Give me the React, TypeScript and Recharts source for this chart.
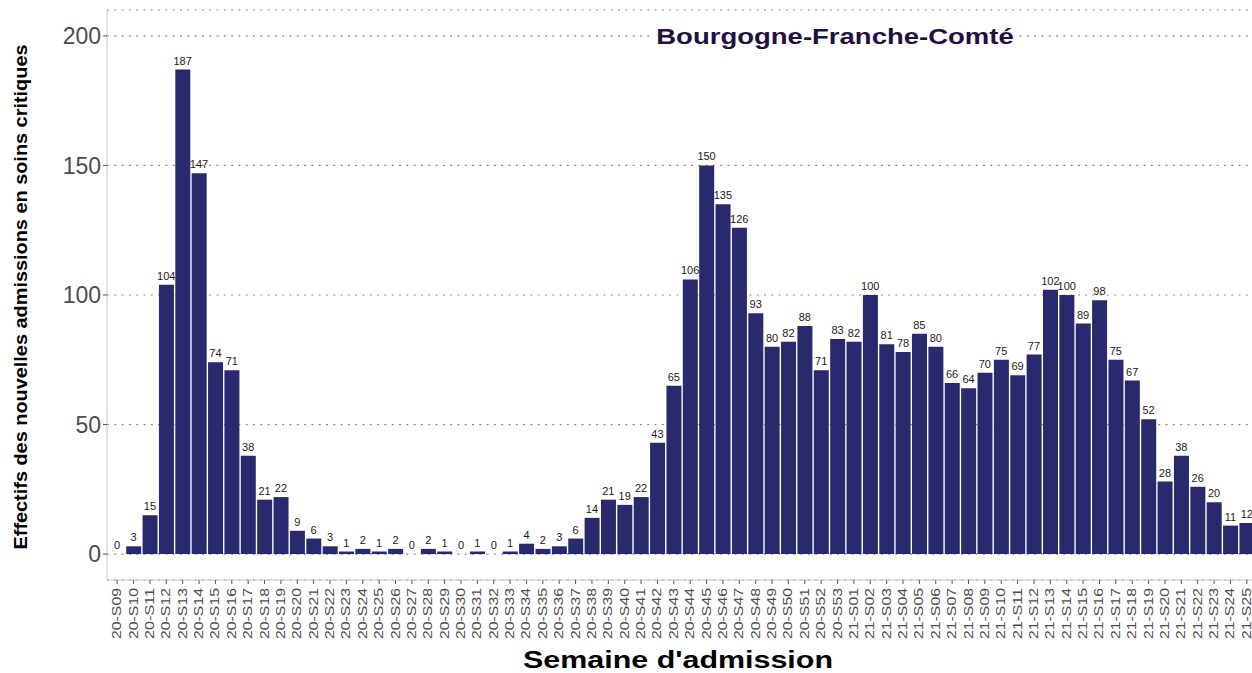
import React from "react";
import { ComposedChart, Bar, Line, XAxis, YAxis, CartesianGrid } from "recharts";

const weeks2020: string[] = [
  "20-S09","20-S10","20-S11","20-S12","20-S13","20-S14","20-S15","20-S16","20-S17","20-S18",
  "20-S19","20-S20","20-S21","20-S22","20-S23","20-S24","20-S25","20-S26","20-S27","20-S28",
  "20-S29","20-S30","20-S31","20-S32","20-S33","20-S34","20-S35","20-S36","20-S37","20-S38",
  "20-S39","20-S40","20-S41","20-S42","20-S43","20-S44","20-S45","20-S46","20-S47","20-S48",
  "20-S49","20-S50","20-S51","20-S52","20-S53",
];
const weeks2021: string[] = [
  "21-S01","21-S02","21-S03","21-S04","21-S05","21-S06","21-S07","21-S08","21-S09","21-S10",
  "21-S11","21-S12","21-S13","21-S14","21-S15","21-S16","21-S17","21-S18","21-S19","21-S20",
  "21-S21","21-S22","21-S23","21-S24","21-S25",
];
const values2020: number[] = [
  0, 3, 15, 104, 187, 147, 74, 71, 38, 21,
  22, 9, 6, 3, 1, 2, 1, 2, 0, 2,
  1, 0, 1, 0, 1, 4, 2, 3, 6, 14,
  21, 19, 22, 43, 65, 106, 150, 135, 126, 93,
  80, 82, 88, 71, 83,
];
const values2021: number[] = [
  82, 100, 81, 78, 85, 80, 66, 64, 70, 75,
  69, 77, 102, 100, 89, 98, 75, 67, 52, 28,
  38, 26, 20, 11, 12,
];
const yTicks: number[] = [0, 50, 100, 150, 200];

const title = "Bourgogne-Franche-Comté";
const xTitle = "Semaine d'admission";
const yTitle = "Effectifs des nouvelles admissions en soins critiques";

const categories = [...weeks2020, ...weeks2021];
const allValues = [...values2020, ...values2021];
const data = categories.map((week, i) => ({ week, v: allValues[i] }));

const FONT = "'Liberation Sans', Arial, Helvetica, sans-serif";

const XTick = (props: any) => {
  const { x, y, payload } = props;
  return (
    <text
      transform={`translate(${x},${y + 2}) rotate(-90)`}
      textAnchor="end"
      dominantBaseline="central"
      fontSize={12}
      fill="#4d4d4d"
      fontFamily={FONT}
      textLength={51}
      lengthAdjust="spacingAndGlyphs"
    >
      {payload.value}
    </text>
  );
};

const YTitle = () => (
  <text
    x={20}
    y={297}
    transform="rotate(-90 20 297)"
    textAnchor="middle"
    dominantBaseline="central"
    fontSize={19}
    fontWeight="bold"
    fill="#000"
    fontFamily={FONT}
    textLength={505}
    lengthAdjust="spacingAndGlyphs"
  >
    {yTitle}
  </text>
);

const XTitle = () => (
  <text
    x={678}
    y={660}
    textAnchor="middle"
    dominantBaseline="central"
    fontSize={23.5}
    fontWeight="bold"
    fill="#000"
    fontFamily={FONT}
    textLength={310}
    lengthAdjust="spacingAndGlyphs"
  >
    {xTitle}
  </text>
);

const ValueLabel = (props: any) => {
  const { x, y, value } = props;
  if (x == null || y == null) return null;
  return (
    <text
      x={x}
      y={y - 5}
      textAnchor="middle"
      fontSize={11}
      fill="#1a1a1a"
      fontFamily={FONT}
    >
      {value}
    </text>
  );
};

export default function App() {
  return (
    <div
      style={{
        position: "fixed",
        left: 0,
        top: 0,
        width: 1252,
        height: 673,
        overflow: "hidden",
        background: "#fff",
        fontFamily: FONT,
      }}
    >
      <ComposedChart
        width={1270}
        height={673}
        data={data}
        margin={{ top: 10, right: 13, left: 0, bottom: 0 }}
        barCategoryGap="5%"
      >
        <CartesianGrid
          vertical={false}
          stroke="#8a8a8a"
          strokeDasharray="2 5.3"
          strokeWidth={1.2}
        />
        <XAxis
          dataKey="week"
          interval={0}
          height={93}
          padding={{ left: 2, right: 2 }}
          tick={<XTick />}
          tickSize={4}
          tickLine={{ stroke: "#555" }}
          axisLine={{ stroke: "#c8c8c8" }}
          label={<XTitle />}
        />
        <YAxis
          width={107}
          domain={[-10, 210]}
          ticks={yTicks}
          allowDataOverflow
          tickSize={4}
          tickLine={{ stroke: "#555" }}
          axisLine={{ stroke: "#c8c8c8" }}
          tick={{ fontSize: 23, fill: "#4d4d4d", fontFamily: FONT }}
          label={<YTitle />}
        />
        <Bar dataKey="v" fill="#29296e" isAnimationActive={false} />
        <Line
          dataKey="v"
          stroke="none"
          dot={false}
          activeDot={false}
          isAnimationActive={false}
          label={<ValueLabel />}
        />
      </ComposedChart>
      <div
        style={{
          position: "absolute",
          left: 835,
          top: 37,
          transform: "translate(-50%, -50%) scaleX(1.25)",
          background: "#fff",
          padding: "0 3px",
          fontSize: 22,
          fontWeight: "bold",
          color: "#22103f",
          whiteSpace: "nowrap",
          lineHeight: "26px",
        }}
      >
        {title}
      </div>
    </div>
  );
}
